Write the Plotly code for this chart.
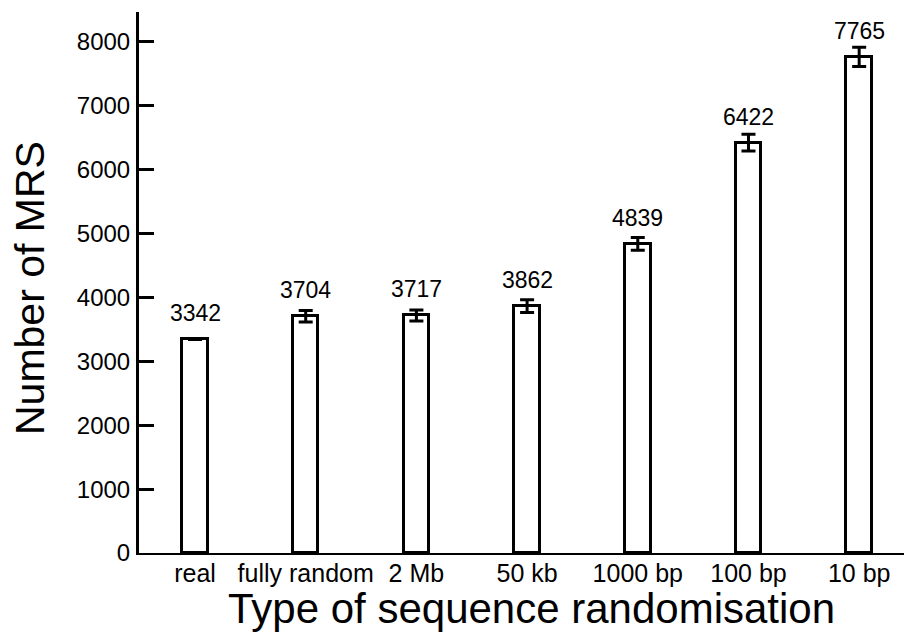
import plotly.graph_objects as go

# Randomisation types and MRS counts (mean and error; the real genome has no error)
categories = ["real", "fully random", "2 Mb", "50 kb", "1000 bp", "100 bp", "10 bp"]
counts = [3342, 3704, 3717, 3862, 4839, 6422, 7765]
errors = [None, 90, 85, 100, 100, 130, 150]
y_ticks = [0, 1000, 2000, 3000, 4000, 5000, 6000, 7000, 8000]

FONT = "Liberation Sans, Arial, Helvetica, sans-serif"
x_pos = list(range(len(categories)))

fig = go.Figure()
fig.add_trace(go.Bar(
    x=x_pos,
    y=counts,
    width=0.23,
    marker=dict(color="white", line=dict(color="black", width=3)),
    error_y=dict(
        type="data",
        array=errors,
        visible=True,
        color="black",
        thickness=3,
        width=7,
    ),
    showlegend=False,
    hoverinfo="skip",
))

# value labels above each bar
for xi, v in zip(x_pos, counts):
    fig.add_annotation(
        x=xi, y=v, xref="x", yref="y",
        text=str(v), showarrow=False,
        yanchor="bottom", yshift=11,
        font=dict(family=FONT, size=23, color="black"),
    )

W, H = 904, 634
L, R, T, B = 139, 0, 12, 81
pw, ph = W - L - R, H - T - B

# axis titles, placed in paper coordinates
fig.add_annotation(
    x=(531 - L) / pw, y=(H - 608 - B) / ph, xref="paper", yref="paper",
    xanchor="center", yanchor="middle",
    text="Type of sequence randomisation", showarrow=False,
    font=dict(family=FONT, size=42, color="black"),
)
fig.add_annotation(
    x=(30 - L) / pw, y=(H - 288 - B) / ph, xref="paper", yref="paper",
    xanchor="center", yanchor="middle",
    text="Number of MRS", showarrow=False, textangle=-90,
    font=dict(family=FONT, size=41, color="black"),
)

fig.update_layout(
    width=W, height=H,
    margin=dict(l=L, r=R, t=T, b=B, pad=0),
    paper_bgcolor="white",
    plot_bgcolor="white",
    font=dict(family=FONT, color="black"),
    bargap=0,
)
fig.update_xaxes(
    range=[-0.506, 6.405],
    tickmode="array",
    tickvals=x_pos,
    ticktext=categories,
    showgrid=False,
    zeroline=False,
    showline=True,
    linecolor="black",
    linewidth=2,
    ticks="",
    tickfont=dict(family=FONT, size=25, color="black"),
    ticklabelstandoff=-3,
)
fig.update_yaxes(
    range=[0, 8466],
    tickmode="array",
    tickvals=y_ticks,
    ticktext=[str(t) for t in y_ticks],
    showgrid=False,
    zeroline=False,
    showline=True,
    linecolor="black",
    linewidth=3,
    ticks="inside",
    ticklen=15,
    tickwidth=3,
    tickcolor="black",
    tickfont=dict(family=FONT, size=24, color="black"),
    ticklabelstandoff=1,
)

fig.write_html("out.html")
